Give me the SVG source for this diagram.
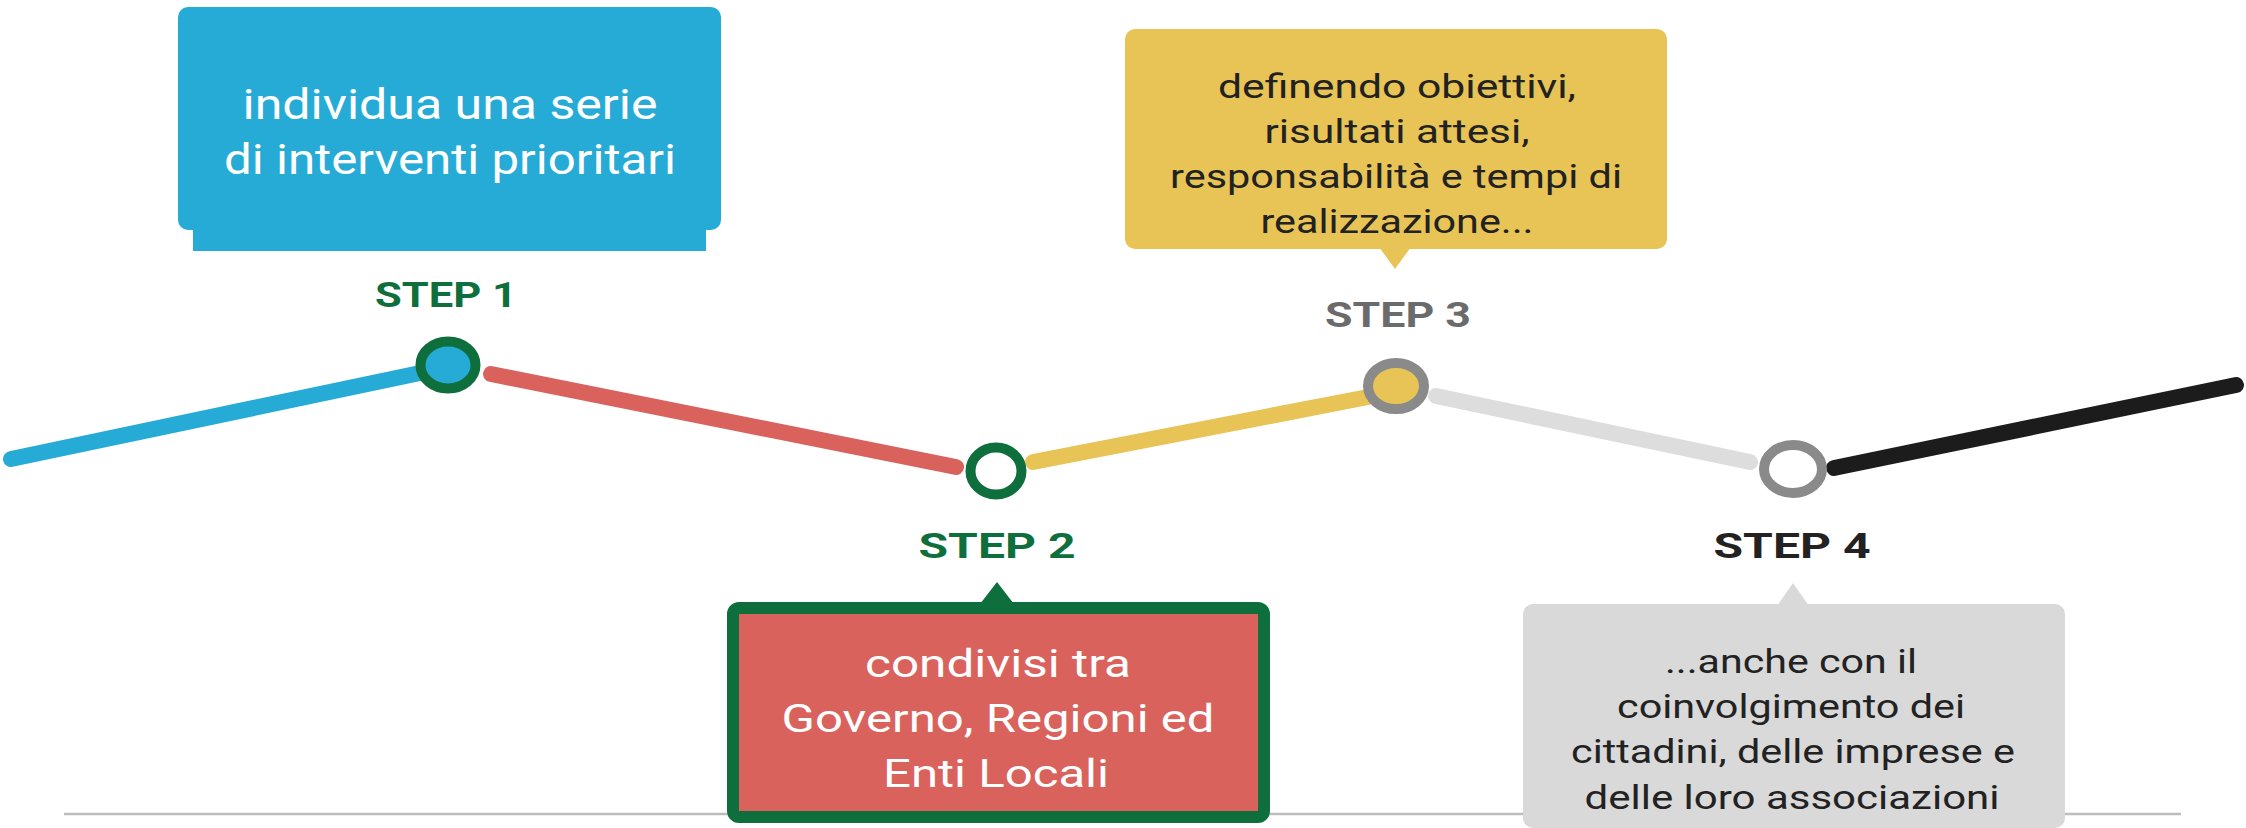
<svg xmlns="http://www.w3.org/2000/svg" width="2246" height="828" viewBox="0 0 2246 828">
<style>
  .seg { fill: none; stroke-width: 16; stroke-linecap: round; }
  .dot { stroke-width: 10; }
  .step { font-family: Roboto, "Liberation Sans", Arial, sans-serif; font-weight: bold; font-size: 35px; text-anchor: middle; }
  .txt { font-family: Roboto, "Liberation Sans", Arial, sans-serif; text-anchor: middle; }
  .w40 { font-size: 42px; fill: #ffffff; }
  .w36 { font-size: 38px; fill: #ffffff; }
  .d30 { font-size: 33px; fill: #222222; }
</style>
<rect width="2246" height="828" fill="#ffffff"/>
<line id="baseline" x1="64" y1="814" x2="2181" y2="814" stroke="#BDBDBD" stroke-width="2.5"/>

<g id="connectors">
  <line class="seg" x1="11" y1="459" x2="420" y2="373" stroke="#26ABD7"/>
  <line class="seg" x1="491" y1="374" x2="956" y2="467" stroke="#D9625D"/>
  <line class="seg" x1="1033" y1="462" x2="1368" y2="397" stroke="#E8C456"/>
  <line class="seg" x1="1436" y1="396" x2="1750" y2="462" stroke="#DDDDDD"/>
  <line class="seg" x1="1834" y1="468" x2="2236" y2="385" stroke="#1C1C1C"/>
</g>

<g id="step1">
  <rect x="178" y="7" width="543" height="223" rx="10" fill="#26ABD7"/>
  <rect x="193" y="215" width="513" height="36" fill="#26ABD7"/>
  <text class="txt w40" x="450" y="119" textLength="415" lengthAdjust="spacingAndGlyphs">individua una serie</text>
  <text class="txt w40" x="450" y="174" textLength="452" lengthAdjust="spacingAndGlyphs">di interventi prioritari</text>
  <text class="step" x="446" y="307" fill="#0F6F3C" textLength="142" lengthAdjust="spacingAndGlyphs">STEP 1</text>
  <ellipse class="dot" cx="448" cy="365" rx="27.5" ry="23.5" fill="#26ABD7" stroke="#0F6F3C"/>
</g>

<g id="step2">
  <ellipse class="dot" cx="996" cy="471" rx="25.5" ry="23.5" fill="#ffffff" stroke="#0F6F3C"/>
  <text class="step" x="997" y="558" fill="#0F6F3C" textLength="157" lengthAdjust="spacingAndGlyphs">STEP 2</text>
  <polygon points="980,604 1014,604 997,582" fill="#0F6F3C"/>
  <rect x="733" y="608" width="531" height="209" rx="6" fill="#D9625D" stroke="#0F6F3C" stroke-width="12"/>
  <text class="txt w36" x="998" y="677" textLength="266" lengthAdjust="spacingAndGlyphs">condivisi tra</text>
  <text class="txt w36" x="998" y="732" textLength="433" lengthAdjust="spacingAndGlyphs">Governo, Regioni ed</text>
  <text class="txt w36" x="996" y="787" textLength="226" lengthAdjust="spacingAndGlyphs">Enti Locali</text>
</g>

<g id="step3">
  <rect x="1125" y="29" width="542" height="220" rx="10" fill="#E8C456"/>
  <polygon points="1379,247 1411,247 1395,269" fill="#E8C456"/>
  <text class="txt d30" x="1397" y="98" textLength="358" lengthAdjust="spacingAndGlyphs">definendo obiettivi,</text>
  <text class="txt d30" x="1397" y="143" textLength="265" lengthAdjust="spacingAndGlyphs">risultati attesi,</text>
  <text class="txt d30" x="1396" y="188" textLength="452" lengthAdjust="spacingAndGlyphs">responsabilità e tempi di</text>
  <text class="txt d30" x="1397" y="233" textLength="273" lengthAdjust="spacingAndGlyphs">realizzazione...</text>
  <text class="step" x="1398" y="327" fill="#6B6B6B" textLength="146" lengthAdjust="spacingAndGlyphs">STEP 3</text>
  <ellipse class="dot" cx="1396" cy="386" rx="28" ry="23" fill="#E8C456" stroke="#8A8A8A"/>
</g>

<g id="step4">
  <ellipse class="dot" cx="1793" cy="469" rx="29" ry="24" fill="#ffffff" stroke="#8A8A8A"/>
  <text class="step" x="1792" y="558" fill="#222222" textLength="157" lengthAdjust="spacingAndGlyphs">STEP 4</text>
  <polygon points="1777,606 1809,606 1793,583" fill="#D9D9D9"/>
  <rect x="1523" y="604" width="542" height="224" rx="10" fill="#D9D9D9"/>
  <text class="txt d30" x="1791" y="673" textLength="252" lengthAdjust="spacingAndGlyphs">...anche con il</text>
  <text class="txt d30" x="1791" y="718" textLength="348" lengthAdjust="spacingAndGlyphs">coinvolgimento dei</text>
  <text class="txt d30" x="1793" y="763" textLength="444" lengthAdjust="spacingAndGlyphs">cittadini, delle imprese e</text>
  <text class="txt d30" x="1792" y="809" textLength="415" lengthAdjust="spacingAndGlyphs">delle loro associazioni</text>
</g>
</svg>
